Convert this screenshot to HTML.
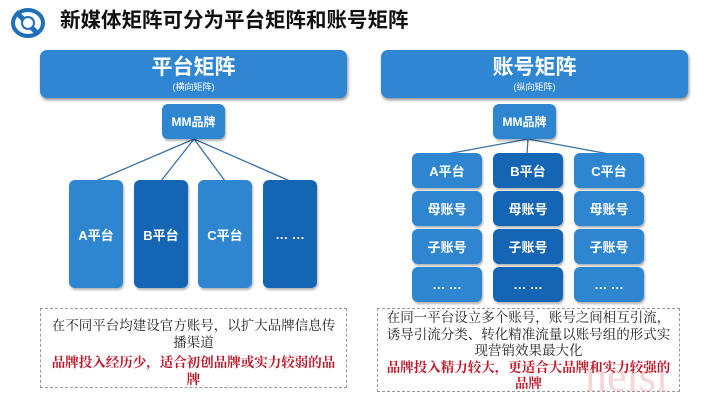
<!DOCTYPE html>
<html><head><meta charset="utf-8"><style>
*{margin:0;padding:0;box-sizing:border-box}
body{width:720px;height:405px;background:#fff;position:relative;overflow:hidden;font-family:"Liberation Sans","Noto Sans CJK SC",sans-serif}
.a{position:absolute}
.b{position:absolute;border-radius:6px;color:#fff;font-weight:bold;display:flex;align-items:center;justify-content:center;font-size:13px;box-shadow:1px 2px 2px rgba(0,0,0,.3)}
.l{background:#2f86d0}.d{background:#1565b5}
.hd{position:absolute;top:50px;height:48px;background:#2f86d3;border-radius:7px;color:#fff;text-align:center;box-shadow:1px 2px 3px rgba(0,0,0,.45)}
.hd b{display:block;font-size:21px;line-height:26px;margin-top:5px}
.hd span{display:block;font-size:9px;line-height:12px}
.tb{position:absolute;border:1px dashed #999;font-family:"Liberation Serif","Noto Serif CJK SC",serif;font-size:13.5px;line-height:16.5px;text-align:center;color:#222;white-space:nowrap}
.tb .r{color:#c0192a;font-weight:bold}
</style></head><body>
<svg class="a" style="left:8px;top:6px" width="40" height="34" viewBox="0 0 40 34">
<ellipse cx="20" cy="17" rx="15" ry="13" fill="none" stroke="#1f6fb8" stroke-width="4"/>
<path d="M8 6 L30 28" stroke="#1f6fb8" stroke-width="5"/>
<circle cx="20" cy="17" r="6" fill="#fff" stroke="#1f6fb8" stroke-width="2"/>
</svg>
<div class="a" style="left:60px;top:8px;font-size:20.5px;font-weight:bold;color:#111;line-height:26px">新媒体矩阵可分为平台矩阵和账号矩阵</div>
<div class="hd" style="left:40px;width:307px"><b>平台矩阵</b><span>(横向矩阵)</span></div>
<div class="hd" style="left:381px;width:307px"><b>账号矩阵</b><span>(纵向矩阵)</span></div>
<svg class="a" style="left:0;top:0" width="720" height="405">
<g stroke="#3a6fa8" stroke-width="1.3">
<line x1="194" y1="139" x2="96" y2="181"/><line x1="194" y1="139" x2="161" y2="181"/><line x1="194" y1="139" x2="225" y2="181"/><line x1="194" y1="139" x2="290" y2="181"/>
<line x1="528" y1="139" x2="447" y2="154"/><line x1="528" y1="139" x2="527" y2="154"/><line x1="528" y1="139" x2="609" y2="154"/>
</g></svg>
<div class="b l" style="left:162px;top:104px;width:63px;height:35px;font-size:12px">MM品牌</div>
<div class="b l" style="left:493px;top:104px;width:63px;height:35px;font-size:12px">MM品牌</div>
<div class="b l" style="left:69px;top:180px;width:54px;height:108px">A平台</div>
<div class="b d" style="left:134px;top:180px;width:54px;height:108px">B平台</div>
<div class="b l" style="left:198px;top:180px;width:54px;height:108px">C平台</div>
<div class="b d" style="left:263px;top:180px;width:54px;height:108px">… …</div>
<div class="b l" style="left:412px;top:153px;width:70px;height:35px">A平台</div>
<div class="b d" style="left:493px;top:153px;width:70px;height:35px">B平台</div>
<div class="b l" style="left:574px;top:153px;width:70px;height:35px">C平台</div>
<div class="b l" style="left:412px;top:191px;width:70px;height:35px">母账号</div>
<div class="b d" style="left:493px;top:191px;width:70px;height:35px">母账号</div>
<div class="b l" style="left:574px;top:191px;width:70px;height:35px">母账号</div>
<div class="b l" style="left:412px;top:229px;width:70px;height:35px">子账号</div>
<div class="b d" style="left:493px;top:229px;width:70px;height:35px">子账号</div>
<div class="b l" style="left:574px;top:229px;width:70px;height:35px">子账号</div>
<div class="b l" style="left:412px;top:267px;width:70px;height:35px">… …</div>
<div class="b d" style="left:493px;top:267px;width:70px;height:35px">… …</div>
<div class="b l" style="left:574px;top:267px;width:70px;height:35px">… …</div>
<div class="tb" style="left:40px;top:308px;width:307px;height:80px;padding-top:9px">在不同平台均建设官方账号，以扩大品牌信息传<br>播渠道<div class="r" style="margin-top:4px">品牌投入经历少，适合初创品牌或实力较弱的品<br>牌</div></div>
<div class="tb" style="left:377px;top:308px;width:303px;height:84px;padding-top:1px">在同一平台设立多个账号，账号之间相互引流，<br>诱导引流分类、转化精准流量以账号组的形式实<br>现营销效果最大化<div class="r">品牌投入精力较大，更适合大品牌和实力较强的<br>品牌</div></div>
<div class="a" style="left:585px;top:355px;font-family:'Liberation Serif',serif;font-size:44px;color:rgba(220,120,130,.3);line-height:44px">neisi</div>
</body></html>
